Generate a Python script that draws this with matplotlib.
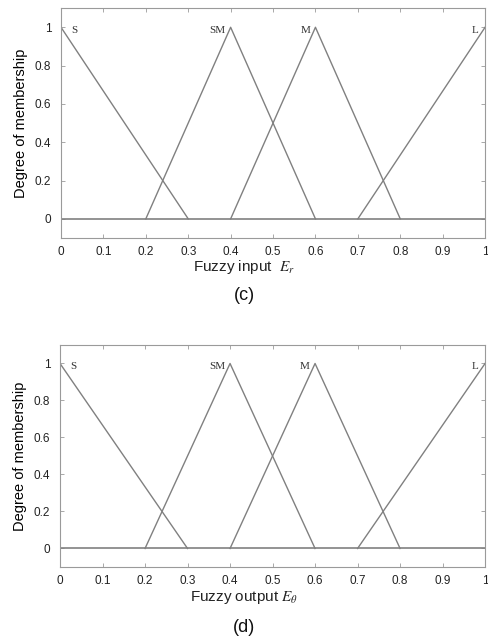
import matplotlib
matplotlib.use("Agg")
import matplotlib.pyplot as plt
from matplotlib.ticker import FuncFormatter

plt.rcParams['font.family'] = ['Liberation Sans', 'DejaVu Sans']
plt.rcParams['mathtext.fontset'] = 'stix'

# membership functions: breakpoints (x) and values (y)
mf_names = ["S", "SM", "M", "L"]
mf_x = [[0.0, 0.3], [0.2, 0.4, 0.6], [0.4, 0.6, 0.8], [0.7, 1.0]]
mf_y = [[1, 0], [0, 1, 0], [0, 1, 0], [0, 1]]
peaks = [0.0, 0.4, 0.6, 1.0]
label_dx = [0.025, -0.012, -0.012, -0.015]
label_ha = ["left", "right", "right", "right"]

base_x = [0.0, 1.0]
base_y = [0, 0]

x_ticks = [0, 0.1, 0.2, 0.3, 0.4, 0.5, 0.6, 0.7, 0.8, 0.9, 1]
y_ticks = [0, 0.2, 0.4, 0.6, 0.8, 1]

panels = [
    {"xlabel": "Fuzzy input  $E_r$", "tag": "(c)",
     "rect": [0.125, 0.6304, 0.869, 0.357], "xl_y": 267, "tag_y": 296},
    {"xlabel": "Fuzzy output $E_\\theta$", "tag": "(d)",
     "rect": [0.123, 0.1196, 0.871, 0.3447], "xl_y": 598, "tag_y": 628},
]

line_col = "#808080"
spine_col = "#9a9a9a"

fig = plt.figure(figsize=(4.88, 6.44), dpi=100)

for p in panels:
    ax = fig.add_axes(p["rect"])
    ax.plot(base_x, base_y, color=line_col, lw=1.2)
    for name, xs, ys, pk, dx, ha in zip(mf_names, mf_x, mf_y, peaks, label_dx, label_ha):
        ax.plot(xs, ys, color=line_col, lw=1.0)
        ax.text(pk + dx, 0.985, name, ha=ha, va="center", fontsize=8,
                family="Liberation Serif", color="#333333")
    ax.set_xlim(0, 1)
    ax.set_ylim(-0.1, 1.1)
    ax.set_xticks(x_ticks)
    ax.set_yticks(y_ticks)
    fmt = FuncFormatter(lambda v, pos: "%g" % v)
    ax.xaxis.set_major_formatter(fmt)
    ax.yaxis.set_major_formatter(fmt)
    ax.tick_params(direction="in", top=True, right=True, length=3,
                   width=0.6, color=spine_col, labelsize=8.5, labelcolor="#222222")
    ax.tick_params(axis="x", pad=6)
    ax.tick_params(axis="y", pad=7)
    for s in ax.spines.values():
        s.set_color(spine_col)
        s.set_linewidth(0.8)
    ax.set_ylabel("Degree of membership", fontsize=10.5, labelpad=5)
    fig.text(0.5, 1 - p["xl_y"] / 644, p["xlabel"], ha="center", va="center",
             fontsize=11, color="#222222")
    fig.text(0.5, 1 - p["tag_y"] / 644, p["tag"], ha="center", va="center",
             fontsize=13, color="#111111")

fig.savefig("out.png", dpi=100)
